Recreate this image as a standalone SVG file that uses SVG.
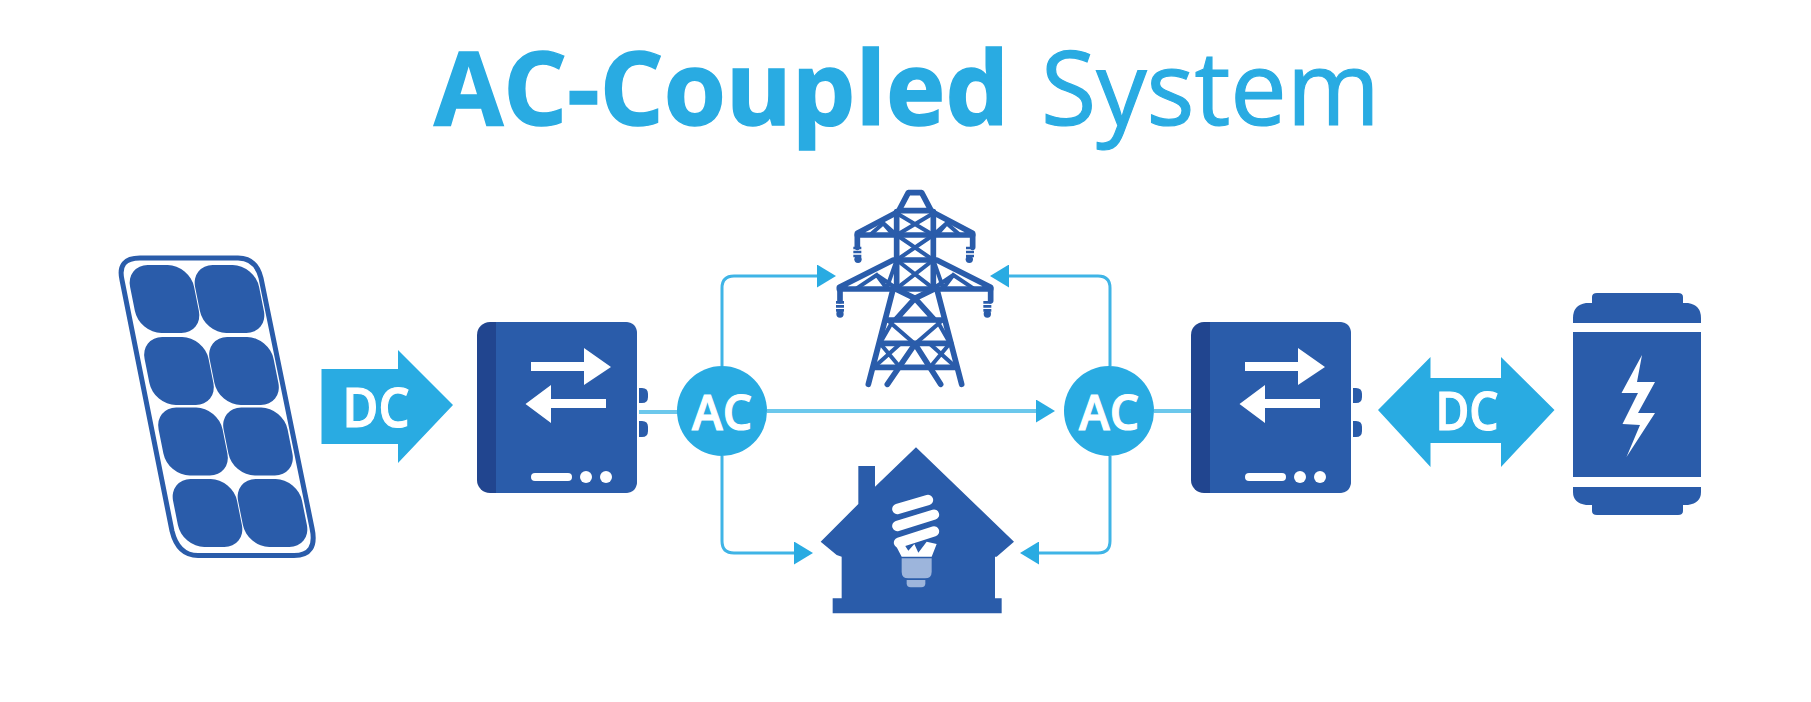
<svg xmlns="http://www.w3.org/2000/svg" xmlns:xlink="http://www.w3.org/1999/xlink" width="1811" height="702" viewBox="0 0 1811 702">
<style>
.blue{fill:#2A5CAA}
.dark{fill:#21458F}
.sky{fill:#29ABE2}
.white{fill:#fff}
.title{font-family:"Open Sans","Noto Sans",sans-serif;font-size:102px;fill:#29ABE2;stroke:#29ABE2}
.lab{font-family:"Open Sans","Noto Sans",sans-serif;font-weight:600;fill:#fff;stroke:#fff;stroke-width:1.2;text-anchor:middle}
.con{fill:none;stroke:#3FB4E6;stroke-width:3}
.conb{fill:none;stroke:#6CC8EC;stroke-width:4}
.tw{fill:none;stroke:#2A5CAA;stroke-width:17;stroke-linecap:round;stroke-linejoin:round}
.twt{fill:none;stroke:#2A5CAA;stroke-width:12}
</style>
<defs>
<marker id="ah" markerUnits="userSpaceOnUse" markerWidth="19" markerHeight="23" refX="1" refY="11.5" orient="auto"><path d="M0 0L19 11.500L0 23Z" fill="#29ABE2"/></marker>
<rect id="cell" x="-32" y="-34" width="64" height="68" rx="22" class="blue"/>
<g id="inv">
<rect x="477" y="322" width="160" height="171" rx="13" class="dark"/>
<path d="M496 322H625Q637 322 637 334V481Q637 493 625 493H496Z" class="blue"/>
<path d="M531 362H584V348L611 367L584 385V371H531Z" class="white"/>
<path d="M606 399H551V385L525.500 404L551 423V408H606Z" class="white"/>
<rect x="531" y="473" width="41" height="8" rx="4" class="white"/>
<circle cx="586" cy="477" r="6" class="white"/>
<circle cx="606" cy="477" r="6" class="white"/>
<path d="M639 388H642Q648 388 648 394V397Q648 403 642 403H639Z" class="blue"/>
<path d="M639 421H642Q648 421 648 427V431Q648 437 642 437H639Z" class="blue"/>
</g>
</defs>
<rect width="1811" height="702" fill="#fff"/>
<text id="title" class="title" y="125"><tspan x="434" font-weight="700" stroke-width="1.5" textLength="575" lengthAdjust="spacingAndGlyphs">AC-Coupled</tspan><tspan x="1041" font-weight="400" stroke-width="1.2" textLength="339" lengthAdjust="spacingAndGlyphs">System</tspan></text>
<g id="connectors">
<path class="conb" d="M639 412H680"/>
<path class="conb" d="M1154 411H1191"/>
<path class="conb" d="M767 411H1037" marker-end="url(#ah)"/>
<path class="con" d="M722 366V288Q722 276 734 276H818" marker-end="url(#ah)"/>
<path class="con" d="M1110 366V288Q1110 276 1098 276H1008" marker-end="url(#ah)"/>
<path class="con" d="M722 456V541Q722 553 734 553H795" marker-end="url(#ah)"/>
<path class="con" d="M1110 456V541Q1110 553 1098 553H1038" marker-end="url(#ah)"/>
</g>
<g id="solar-panel">
<path d="M140 258H238Q256 258 261 278L312 528Q318 555.500 294 555.500H198Q178 555.500 172 531L122 280Q117 258 140 258Z" fill="none" stroke="#2A5CAA" stroke-width="5"/>
<use xlink:href="#cell" href="#cell" transform="translate(164.500 299) skewX(11.300)"/>
<use xlink:href="#cell" href="#cell" transform="translate(229.500 299) skewX(11.300)"/>
<use xlink:href="#cell" href="#cell" transform="translate(179 371) skewX(11.300)"/>
<use xlink:href="#cell" href="#cell" transform="translate(244 371) skewX(11.300)"/>
<use xlink:href="#cell" href="#cell" transform="translate(193 441.500) skewX(11.300)"/>
<use xlink:href="#cell" href="#cell" transform="translate(258 441.500) skewX(11.300)"/>
<use xlink:href="#cell" href="#cell" transform="translate(207.500 513) skewX(11.300)"/>
<use xlink:href="#cell" href="#cell" transform="translate(272.500 513) skewX(11.300)"/>
</g>
<g id="dc-arrow-left">
<path d="M321.500 369H398V350L453 405L398 463V444H321.500Z" class="sky"/>
<text class="lab" x="376" y="427" font-size="54" textLength="67" lengthAdjust="spacingAndGlyphs">DC</text>
</g>
<g id="inverter-left"><use xlink:href="#inv" href="#inv"/></g>
<g id="ac-left">
<circle cx="722" cy="411" r="45" class="sky"/>
<text class="lab" x="722" y="430" font-size="49" textLength="60" lengthAdjust="spacingAndGlyphs">AC</text>
</g>
<g id="ac-right">
<circle cx="1109" cy="411" r="45" class="sky"/>
<text class="lab" x="1109" y="430" font-size="49" textLength="60" lengthAdjust="spacingAndGlyphs">AC</text>
</g>
<g id="tower" transform="translate(680 170) scale(.33333)">
<path class="tw" d="M655 125L685 68H725L755 125"/>
<path class="tw" d="M532 190L660 122H750L878 190V195H532Z"/>
<path class="tw" d="M478 352L640 270H770L932 352V357H478Z"/>
<path class="tw" d="M650 125V355M760 125V355"/>
<path class="twt" d="M650 130L760 195M760 130L650 195M650 195L760 270M760 195L650 270M650 270L760 355M760 270L650 355"/>
<path class="twt" d="M570 195L610 160L640 195M610 160L650 195M840 195L800 160L770 195M800 160L760 195"/>
<path class="twt" d="M530 355L590 315L620 355M590 315L650 355M880 355L820 315L790 355M820 315L760 355M650 270L620 355M760 270L790 355"/>
<path class="tw" d="M532 195V232M878 195V232M480 355V392M932 355V392"/>
<path d="M532 230V262M870 230V262M480 393V425M922 393V425" fill="none" stroke="#2A5CAA" stroke-width="24" stroke-dasharray="8 4"/>
<circle cx="534" cy="268" r="11" class="blue"/><circle cx="868" cy="268" r="11" class="blue"/><circle cx="480" cy="432" r="11" class="blue"/><circle cx="922" cy="432" r="11" class="blue"/>
<path class="tw" d="M640 355L565 643M770 355L845 643"/>
<path class="tw" d="M705 522L622 643M705 522L782 643"/>
<path class="tw" d="M650 358L705 385L760 358M705 385L648 448H762Z"/>
<path class="tw" d="M622 450H788M600 520H812M582 592H828"/>
<path class="twt" d="M622 450L705 522L788 450M600 520L660 592M810 520L750 592M582 592L660 522M828 592L750 522M600 520L640 450M810 520L770 450"/>
</g>
<g id="house" transform="translate(680 170) scale(.33333)">
<path class="blue" d="M708 832L1002 1115L950 1160L945 1160V1285H965V1330H458V1285H485V1160L470 1155L422 1115L535 1002V888H585V950Z"/>
<path d="M652 1017L744 990M652 1068L762 1034M657 1118L762 1084" fill="none" stroke="#fff" stroke-width="31" stroke-linecap="round"/>
<path class="white" d="M645 1122L665 1160H755L770 1122L740 1115L715 1148L703 1122L685 1142L672 1122Z"/>
<path d="M665 1165H755V1205Q755 1225 735 1225H685Q665 1225 665 1205Z" fill="#9DB5DC"/>
<path d="M680 1230H736V1240Q736 1252 724 1252H692Q680 1252 680 1240Z" fill="#9DB5DC"/>
</g>
<g id="inverter-right"><use xlink:href="#inv" href="#inv" transform="translate(714 0)"/></g>
<g id="dc-arrow-right">
<path d="M1378 410L1430.500 357V378H1501V357L1554.500 410L1501 467V443H1430.500V467Z" class="sky"/>
<text class="lab" x="1467" y="430" font-size="53" textLength="63" lengthAdjust="spacingAndGlyphs">DC</text>
</g>
<g id="battery">
<path class="blue" d="M1592 297Q1592 293 1597 293H1678Q1683 293 1683 297V303H1688Q1701 305 1701 318V323H1573V318Q1573 305 1586 303H1592Z"/>
<rect x="1573" y="332" width="128" height="145" class="blue"/>
<path class="blue" d="M1573 487H1701V492Q1701 503 1688 505H1683V511Q1683 515 1678 515H1597Q1592 515 1592 511V505H1586Q1573 503 1573 492Z"/>
<path class="white" d="M1642 355L1621.500 393H1638L1622.500 424L1640 425L1626.500 457L1655 413H1638L1655 382H1637Z"/>
</g>
</svg>
